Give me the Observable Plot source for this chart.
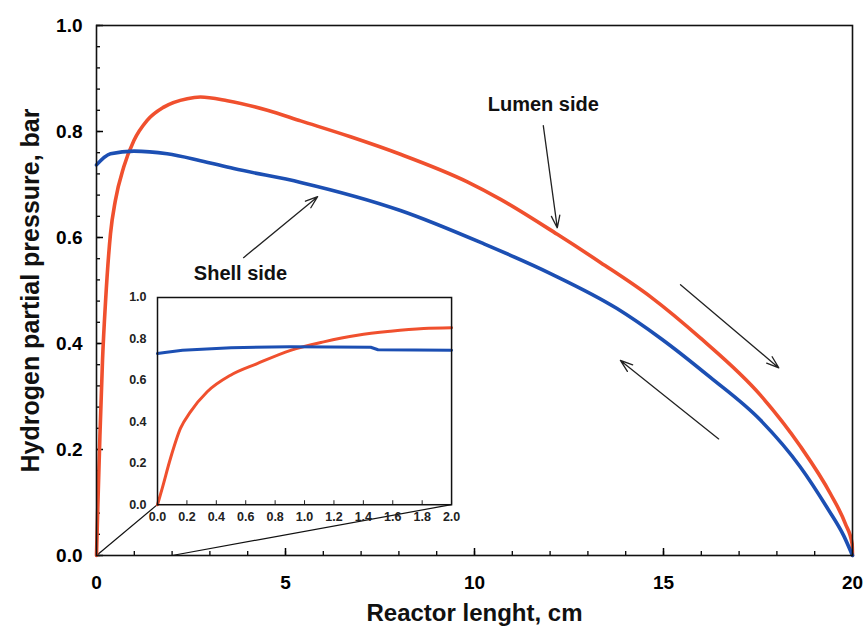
<!DOCTYPE html>
<html><head><meta charset="utf-8">
<script src="https://cdn.jsdelivr.net/npm/d3@7"></script>
<script src="https://cdn.jsdelivr.net/npm/@observablehq/plot@0.6"></script>
<style>
body{margin:0;background:#fff;}
#wrap{position:relative;width:863px;height:637px;background:#fff;}
#wrap svg{display:block;}
#wrap .inset{position:absolute;}
</style></head><body><div id="wrap"></div>
<script>
// Lumen side (red), main chart
const lumenX = [0, 0.03, 0.09, 0.16, 0.24, 0.37, 0.5, 0.72, 0.99, 1.34, 1.78, 2.4, 2.75, 3.46, 4.52, 5.4, 6.72, 8.04, 9.81, 10.69, 12.19, 13.33, 14.66, 15.98, 17.57, 18.62, 19.42, 19.81, 19.99, 20];
const lumenY = [0, 0.08, 0.225, 0.37, 0.48, 0.607, 0.67, 0.733, 0.783, 0.821, 0.846, 0.862, 0.865, 0.858, 0.84, 0.82, 0.79, 0.757, 0.705, 0.672, 0.606, 0.553, 0.488, 0.41, 0.302, 0.206, 0.116, 0.06, 0.022, 0];
// Shell side (blue), main chart
const shellX = [0, 0.37, 0.99, 1.87, 2.75, 3.63, 5.4, 8.04, 10.25, 12.01, 13.77, 14.92, 16.24, 17.57, 18.62, 19.33, 19.77, 20];
const shellY = [0.737, 0.758, 0.763, 0.758, 0.745, 0.73, 0.704, 0.651, 0.588, 0.532, 0.466, 0.41, 0.336, 0.255, 0.167, 0.09, 0.037, 0];
// Inset (0–2 cm)
const insetLumenX = [0, 0.032, 0.088, 0.156, 0.224, 0.338, 0.497, 0.678, 0.905, 1.13, 1.36, 1.585, 1.81, 2.0];
const insetLumenY = [0, 0.079, 0.223, 0.368, 0.448, 0.545, 0.625, 0.681, 0.745, 0.786, 0.818, 0.837, 0.85, 0.854];
const insetShellX = [0, 0.05, 0.17, 0.5, 0.9, 1.45, 1.5, 2.0];
const insetShellY = [0.73, 0.735, 0.745, 0.758, 0.762, 0.76, 0.748, 0.746];
// Ticks
const xMajor = [0, 5, 10, 15, 20];
const xMinor = d3.range(0, 21);
const yMajor = [0, 0.2, 0.4, 0.6, 0.8, 1.0];
const yMinor = d3.range(0, 26).map(i => i * 0.04);
const insetXTicks = d3.range(0, 11).map(i => i * 0.2);
const insetYTicks = [0, 0.2, 0.4, 0.6, 0.8, 1.0];
// Annotations (data units)
const labels = [
  {x: 11.82, y: 0.851, text: "Lumen side"},
  {x: 3.81, y: 0.532, text: "Shell side"}
];
const arrows = [
  {x1: 11.82, y1: 0.811, x2: 12.19, y2: 0.618},
  {x1: 3.89, y1: 0.562, x2: 5.85, y2: 0.677},
  {x1: 15.45, y1: 0.511, x2: 18.05, y2: 0.354},
  {x1: 16.46, y1: 0.220, x2: 13.86, y2: 0.368}
];
// Inset placement in main-chart data units and the zoomed range
const insetBox = {x0: 1.61, x1: 9.39, y0: 0.096, y1: 0.487};
const zoomRange = [0, 2];

const RED = "#f0502e", BLUE = "#1c4fb3";
const FONT = "'Liberation Sans', Arial, Helvetica, sans-serif";

const lumen = lumenX.map((x, i) => ({x, y: lumenY[i]}));
const shell = shellX.map((x, i) => ({x, y: shellY[i]}));
const iLumen = insetLumenX.map((x, i) => ({x, y: insetLumenY[i]}));
const iShell = insetShellX.map((x, i) => ({x, y: insetShellY[i]}));
const links = [
  {x1: zoomRange[0], y1: 0, x2: insetBox.x0, y2: insetBox.y0},
  {x1: zoomRange[1], y1: 0, x2: insetBox.x1, y2: insetBox.y0}
];

const mainChart = Plot.plot({
  width: 863, height: 637,
  marginLeft: 96, marginRight: 11, marginTop: 25, marginBottom: 82,
  x: {domain: [0, 20]},
  y: {domain: [0, 1]},
  style: {fontFamily: FONT, background: "white", color: "#000"},
  marks: [
    Plot.axisX({ticks: xMinor, tickSize: -4, tickFormat: () => "", label: null, strokeWidth: 1.3}),
    Plot.axisX({ticks: xMajor, tickSize: -7, tickPadding: 27, tickFormat: d3.format("d"), label: null, fontSize: 19, fontWeight: "bold", strokeWidth: 1.5}),
    Plot.axisY({ticks: yMinor, tickSize: -4, tickFormat: () => "", label: null, strokeWidth: 1.3}),
    Plot.axisY({ticks: yMajor, tickSize: -7, tickPadding: 21, tickFormat: d3.format(".1f"), label: null, fontSize: 19, fontWeight: "bold", strokeWidth: 1.5}),
    Plot.link(links, {x1: "x1", y1: "y1", x2: "x2", y2: "y2", stroke: "#111", strokeWidth: 1.2}),
    Plot.line(lumen, {x: "x", y: "y", stroke: RED, strokeWidth: 3.6, curve: "monotone-x"}),
    Plot.line(shell, {x: "x", y: "y", stroke: BLUE, strokeWidth: 3.6, curve: "monotone-x"}),
    Plot.arrow(arrows, {x1: "x1", y1: "y1", x2: "x2", y2: "y2", stroke: "#222", strokeWidth: 1.3, headLength: 15, headAngle: 38}),
    Plot.text(labels, {x: "x", y: "y", text: "text", fontSize: 20, fontWeight: "bold", fill: "#111"}),
    Plot.text(["Hydrogen partial pressure, bar"], {frameAnchor: "left", textAnchor: "middle", lineAnchor: "middle", rotate: -90, dx: -66, fontSize: 25, fontWeight: "bold", fill: "#111"}),
    Plot.text(["Reactor lenght, cm"], {frameAnchor: "bottom", lineAnchor: "middle", dy: 58, fontSize: 24, fontWeight: "bold", fill: "#111"}),
    Plot.frame({stroke: "#111", strokeWidth: 1.6})
  ]
});

const wrap = document.getElementById("wrap");
wrap.appendChild(mainChart);

// Inset positioned by main scales
const sx = mainChart.scale("x"), sy = mainChart.scale("y");
const boxLeft = sx.apply(insetBox.x0), boxRight = sx.apply(insetBox.x1);
const boxTop = sy.apply(insetBox.y1), boxBottom = sy.apply(insetBox.y0);
const iml = 42, imr = 14, imt = 6, imb = 26;

const insetChart = Plot.plot({
  width: (boxRight - boxLeft) + iml + imr,
  height: (boxBottom - boxTop) + imt + imb,
  marginLeft: iml, marginRight: imr, marginTop: imt, marginBottom: imb,
  x: {domain: zoomRange},
  y: {domain: [0, 1]},
  style: {fontFamily: FONT, background: "none", color: "#222"},
  marks: [
    Plot.frame({fill: "white", stroke: "none"}),
    Plot.axisX({ticks: insetXTicks, tickSize: -4, tickPadding: 11, tickFormat: d3.format(".1f"), label: null, fontSize: 12.5, fontWeight: "bold"}),
    Plot.axisY({ticks: insetYTicks, tickSize: 0, tickPadding: 11, tickFormat: d3.format(".1f"), label: null, fontSize: 12.5, fontWeight: "bold"}),
    Plot.line(iLumen, {x: "x", y: "y", stroke: RED, strokeWidth: 3, curve: "monotone-x"}),
    Plot.line(iShell, {x: "x", y: "y", stroke: BLUE, strokeWidth: 3}),
    Plot.frame({stroke: "#111", strokeWidth: 1.5})
  ]
});
insetChart.classList.add("inset");
insetChart.style.left = (boxLeft - iml) + "px";
insetChart.style.top = (boxTop - imt) + "px";
insetChart.style.background = "none";
wrap.appendChild(insetChart);
</script></body></html>
